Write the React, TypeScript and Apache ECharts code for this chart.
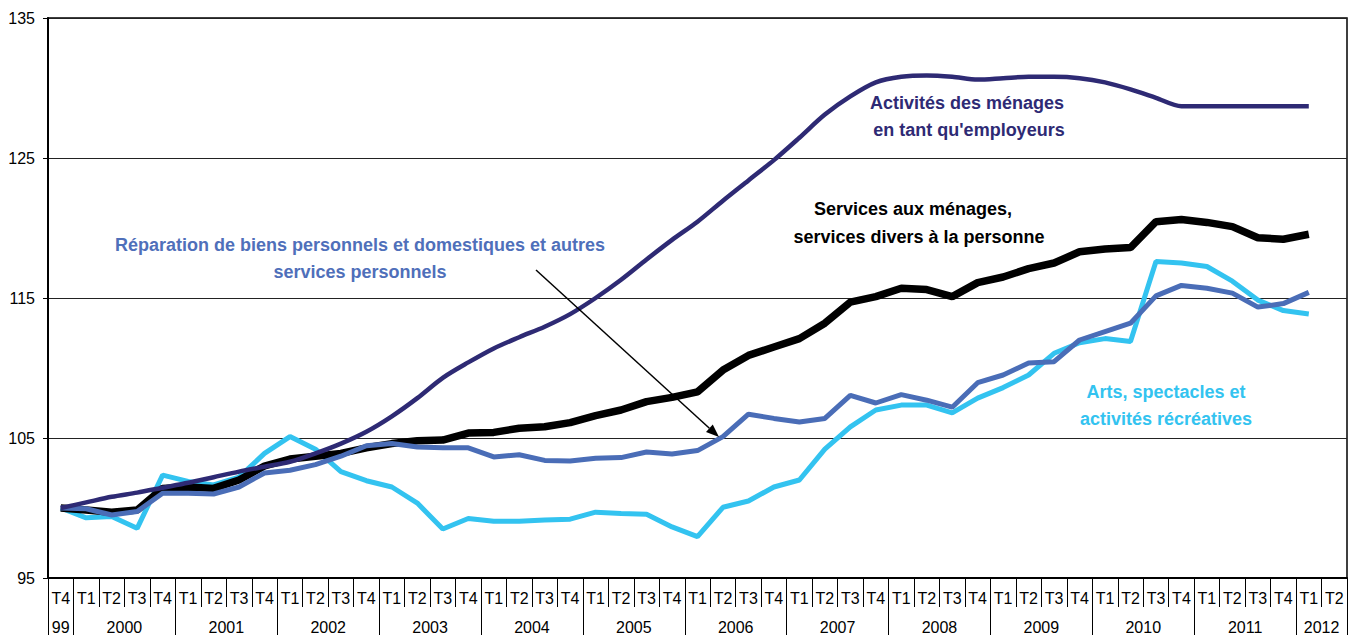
import React, { useEffect, useRef } from "react";
import * as echarts from "echarts";

const quarterLabels = [
  "T4",
  "T1", "T2", "T3", "T4", "T1", "T2", "T3", "T4", "T1", "T2", "T3", "T4",
  "T1", "T2", "T3", "T4", "T1", "T2", "T3", "T4", "T1", "T2", "T3", "T4",
  "T1", "T2", "T3", "T4", "T1", "T2", "T3", "T4", "T1", "T2", "T3", "T4",
  "T1", "T2", "T3", "T4", "T1", "T2", "T3", "T4", "T1", "T2", "T3", "T4",
  "T1", "T2",
];
const yearLabels = ["99", "2000", "2001", "2002", "2003", "2004", "2005", "2006", "2007", "2008", "2009", "2010", "2011", "2012"];
const quartersPerYear = [1, 4, 4, 4, 4, 4, 4, 4, 4, 4, 4, 4, 4, 2];
const yTicks = [95, 105, 115, 125, 135];

const activitesMenages = [
  100, 100.4, 100.8, 101.1, 101.45, 101.8, 102.2, 102.6, 102.95, 103.3,
  103.9, 104.6, 105.45, 106.55, 107.85, 109.3, 110.4, 111.4, 112.2, 112.95,
  113.85, 115.0, 116.3, 117.75, 119.15, 120.45, 121.95, 123.4, 124.85, 126.45,
  128.1, 129.4, 130.4, 130.8, 130.9, 130.8, 130.6, 130.7, 130.8, 130.8,
  130.7, 130.4, 129.9, 129.3, 128.7, 128.7, 128.7, 128.7, 128.7, 128.7,
];
const servicesMenages = [
  100, 99.85, 99.7, 99.85, 101.4, 101.5, 101.4, 102.0, 103.0, 103.5,
  103.7, 103.9, 104.3, 104.6, 104.8, 104.85, 105.35, 105.4, 105.7, 105.8,
  106.1, 106.6, 107.0, 107.6, 107.9, 108.3, 109.85, 110.9, 111.5, 112.1,
  113.2, 114.7, 115.1, 115.7, 115.6, 115.1, 116.1, 116.5, 117.1, 117.5,
  118.3, 118.5, 118.6, 120.45, 120.6, 120.4, 120.1, 119.3, 119.2, 119.55,
];
const reparation = [
  100, 99.95, 99.5, 99.75, 101.05, 101.05, 101.0, 101.5, 102.5, 102.7,
  103.1, 103.7, 104.45, 104.6, 104.35, 104.3, 104.3, 103.65, 103.8, 103.4,
  103.35, 103.55, 103.6, 104.0, 103.85, 104.1, 105.1, 106.7, 106.4, 106.15,
  106.4, 108.05, 107.5, 108.1, 107.7, 107.2, 108.95, 109.5, 110.35, 110.45,
  112.0, 112.6, 113.2, 115.15, 115.9, 115.7, 115.35, 114.35, 114.6, 115.4,
];
const artsSpectacles = [
  100, 99.3, 99.4, 98.55, 102.35, 101.9, 101.65, 102.2, 103.9, 105.1,
  104.2, 102.6, 101.95, 101.5, 100.35, 98.5, 99.25, 99.05, 99.05, 99.15,
  99.2, 99.7, 99.6, 99.55, 98.65, 97.95, 100.05, 100.5, 101.5, 102.0,
  104.2, 105.8, 107.0, 107.35, 107.35, 106.8, 107.85, 108.6, 109.5, 111.05,
  111.8, 112.1, 111.9, 117.6, 117.5, 117.25, 116.2, 114.85, 114.1, 113.85,
];

const FONT = "'Liberation Sans', Arial, sans-serif";
const NAVY = "#2E2A74";
const BLUE = "#4A6DB7";
const CYAN = "#33C3F0";

export default function App() {
  const ref = useRef<HTMLDivElement>(null);

  useEffect(() => {
    if (!ref.current) return;
    const chart = echarts.init(ref.current, undefined, { renderer: "svg" });

    // year boundaries and centers (in quarter units)
    const boundaries: number[] = [0];
    const centers: number[] = [];
    let acc = 0;
    quartersPerYear.forEach((n) => {
      centers.push(acc + n / 2);
      acc += n;
      boundaries.push(acc);
    });
    const nCat = quarterLabels.length;

    const boldFont = `bold 18px ${FONT}`;
    const txt = (text: string, x: number, y: number, fill: string) => ({
      type: "text",
      silent: true,
      style: { text, x, y, fill, font: boldFont, align: "center", verticalAlign: "middle" },
    });

    // arrow geometry
    const ax0 = 536, ay0 = 270, ax1 = 719, ay1 = 437;
    const dx = ax1 - ax0, dy = ay1 - ay0;
    const len = Math.sqrt(dx * dx + dy * dy);
    const ux = dx / len, uy = dy / len;
    const hl = 13, hw = 5;
    const bx = ax1 - ux * hl, by = ay1 - uy * hl;

    chart.setOption({
      animation: false,
      backgroundColor: "#fff",
      grid: {
        left: 48,
        right: 11,
        top: 18,
        bottom: 57,
        show: true,
        borderColor: "#000",
        borderWidth: 1.5,
        backgroundColor: "transparent",
      },
      xAxis: [
        {
          type: "category",
          data: quarterLabels,
          boundaryGap: true,
          position: "bottom",
          axisLine: { show: true, lineStyle: { color: "#000", width: 2 } },
          axisTick: { show: true, interval: 0, length: 29, lineStyle: { color: "#000", width: 1 } },
          axisLabel: { interval: 0, margin: 12, fontSize: 16, color: "#000", fontFamily: FONT },
          splitLine: { show: false },
        },
        {
          type: "value",
          min: 0,
          max: nCat,
          position: "bottom",
          axisLine: { show: false },
          splitLine: { show: false },
          axisTick: {
            show: true,
            customValues: boundaries,
            length: 60,
            lineStyle: { color: "#000", width: 1 },
          },
          axisLabel: {
            show: true,
            customValues: centers,
            margin: 41,
            fontSize: 16,
            color: "#000",
            fontFamily: FONT,
            formatter: (v: number) => {
              const k = centers.findIndex((c) => Math.abs(c - v) < 1e-6);
              return k >= 0 ? yearLabels[k] : "";
            },
          },
        },
      ],
      yAxis: {
        type: "value",
        min: yTicks[0],
        max: yTicks[yTicks.length - 1],
        interval: 10,
        axisLine: { show: true, lineStyle: { color: "#000", width: 2 } },
        axisTick: { show: true, length: 5, lineStyle: { color: "#000", width: 1 } },
        axisLabel: { margin: 13, fontSize: 16, color: "#000", fontFamily: FONT },
        splitLine: { show: true, lineStyle: { color: "#222", width: 1 } },
      },
      series: [
        {
          name: "Arts, spectacles et activités récréatives",
          type: "line",
          data: artsSpectacles,
          showSymbol: false,
          lineStyle: { color: CYAN, width: 5 },
          itemStyle: { color: CYAN },
          z: 2,
        },
        {
          name: "Services aux ménages, services divers à la personne",
          type: "line",
          data: servicesMenages,
          showSymbol: false,
          lineStyle: { color: "#000", width: 7.5 },
          itemStyle: { color: "#000" },
          z: 3,
        },
        {
          name: "Réparation de biens personnels et domestiques et autres services personnels",
          type: "line",
          data: reparation,
          showSymbol: false,
          lineStyle: { color: BLUE, width: 5 },
          itemStyle: { color: BLUE },
          z: 4,
        },
        {
          name: "Activités des ménages en tant qu'employeurs",
          type: "line",
          data: activitesMenages,
          showSymbol: false,
          smooth: 0.3,
          lineStyle: { color: NAVY, width: 4.5 },
          itemStyle: { color: NAVY },
          z: 5,
        },
      ],
      graphic: [
        txt("Activités des ménages", 967, 103, NAVY),
        txt("en tant qu'employeurs", 969, 130, NAVY),
        txt("Services aux ménages,", 913, 209, "#000"),
        txt("services divers à la personne", 919, 237, "#000"),
        txt("Réparation de biens personnels et domestiques et autres", 360, 245, "#4F6FBA"),
        txt("services personnels", 360, 272, "#4F6FBA"),
        txt("Arts, spectacles et", 1166, 392, CYAN),
        txt("activités récréatives", 1166, 419, CYAN),
        {
          type: "line",
          silent: true,
          z: 100,
          shape: { x1: ax0, y1: ay0, x2: bx, y2: by },
          style: { stroke: "#000", lineWidth: 1.5 },
        },
        {
          type: "polygon",
          silent: true,
          z: 100,
          shape: {
            points: [
              [ax1, ay1],
              [bx - uy * hw, by + ux * hw],
              [bx + uy * hw, by - ux * hw],
            ],
          },
          style: { fill: "#000" },
        },
      ],
    });

    return () => chart.dispose();
  }, []);

  return (
    <div
      ref={ref}
      style={{ position: "fixed", left: 0, top: 0, width: 1358, height: 635, background: "#fff" }}
    />
  );
}
